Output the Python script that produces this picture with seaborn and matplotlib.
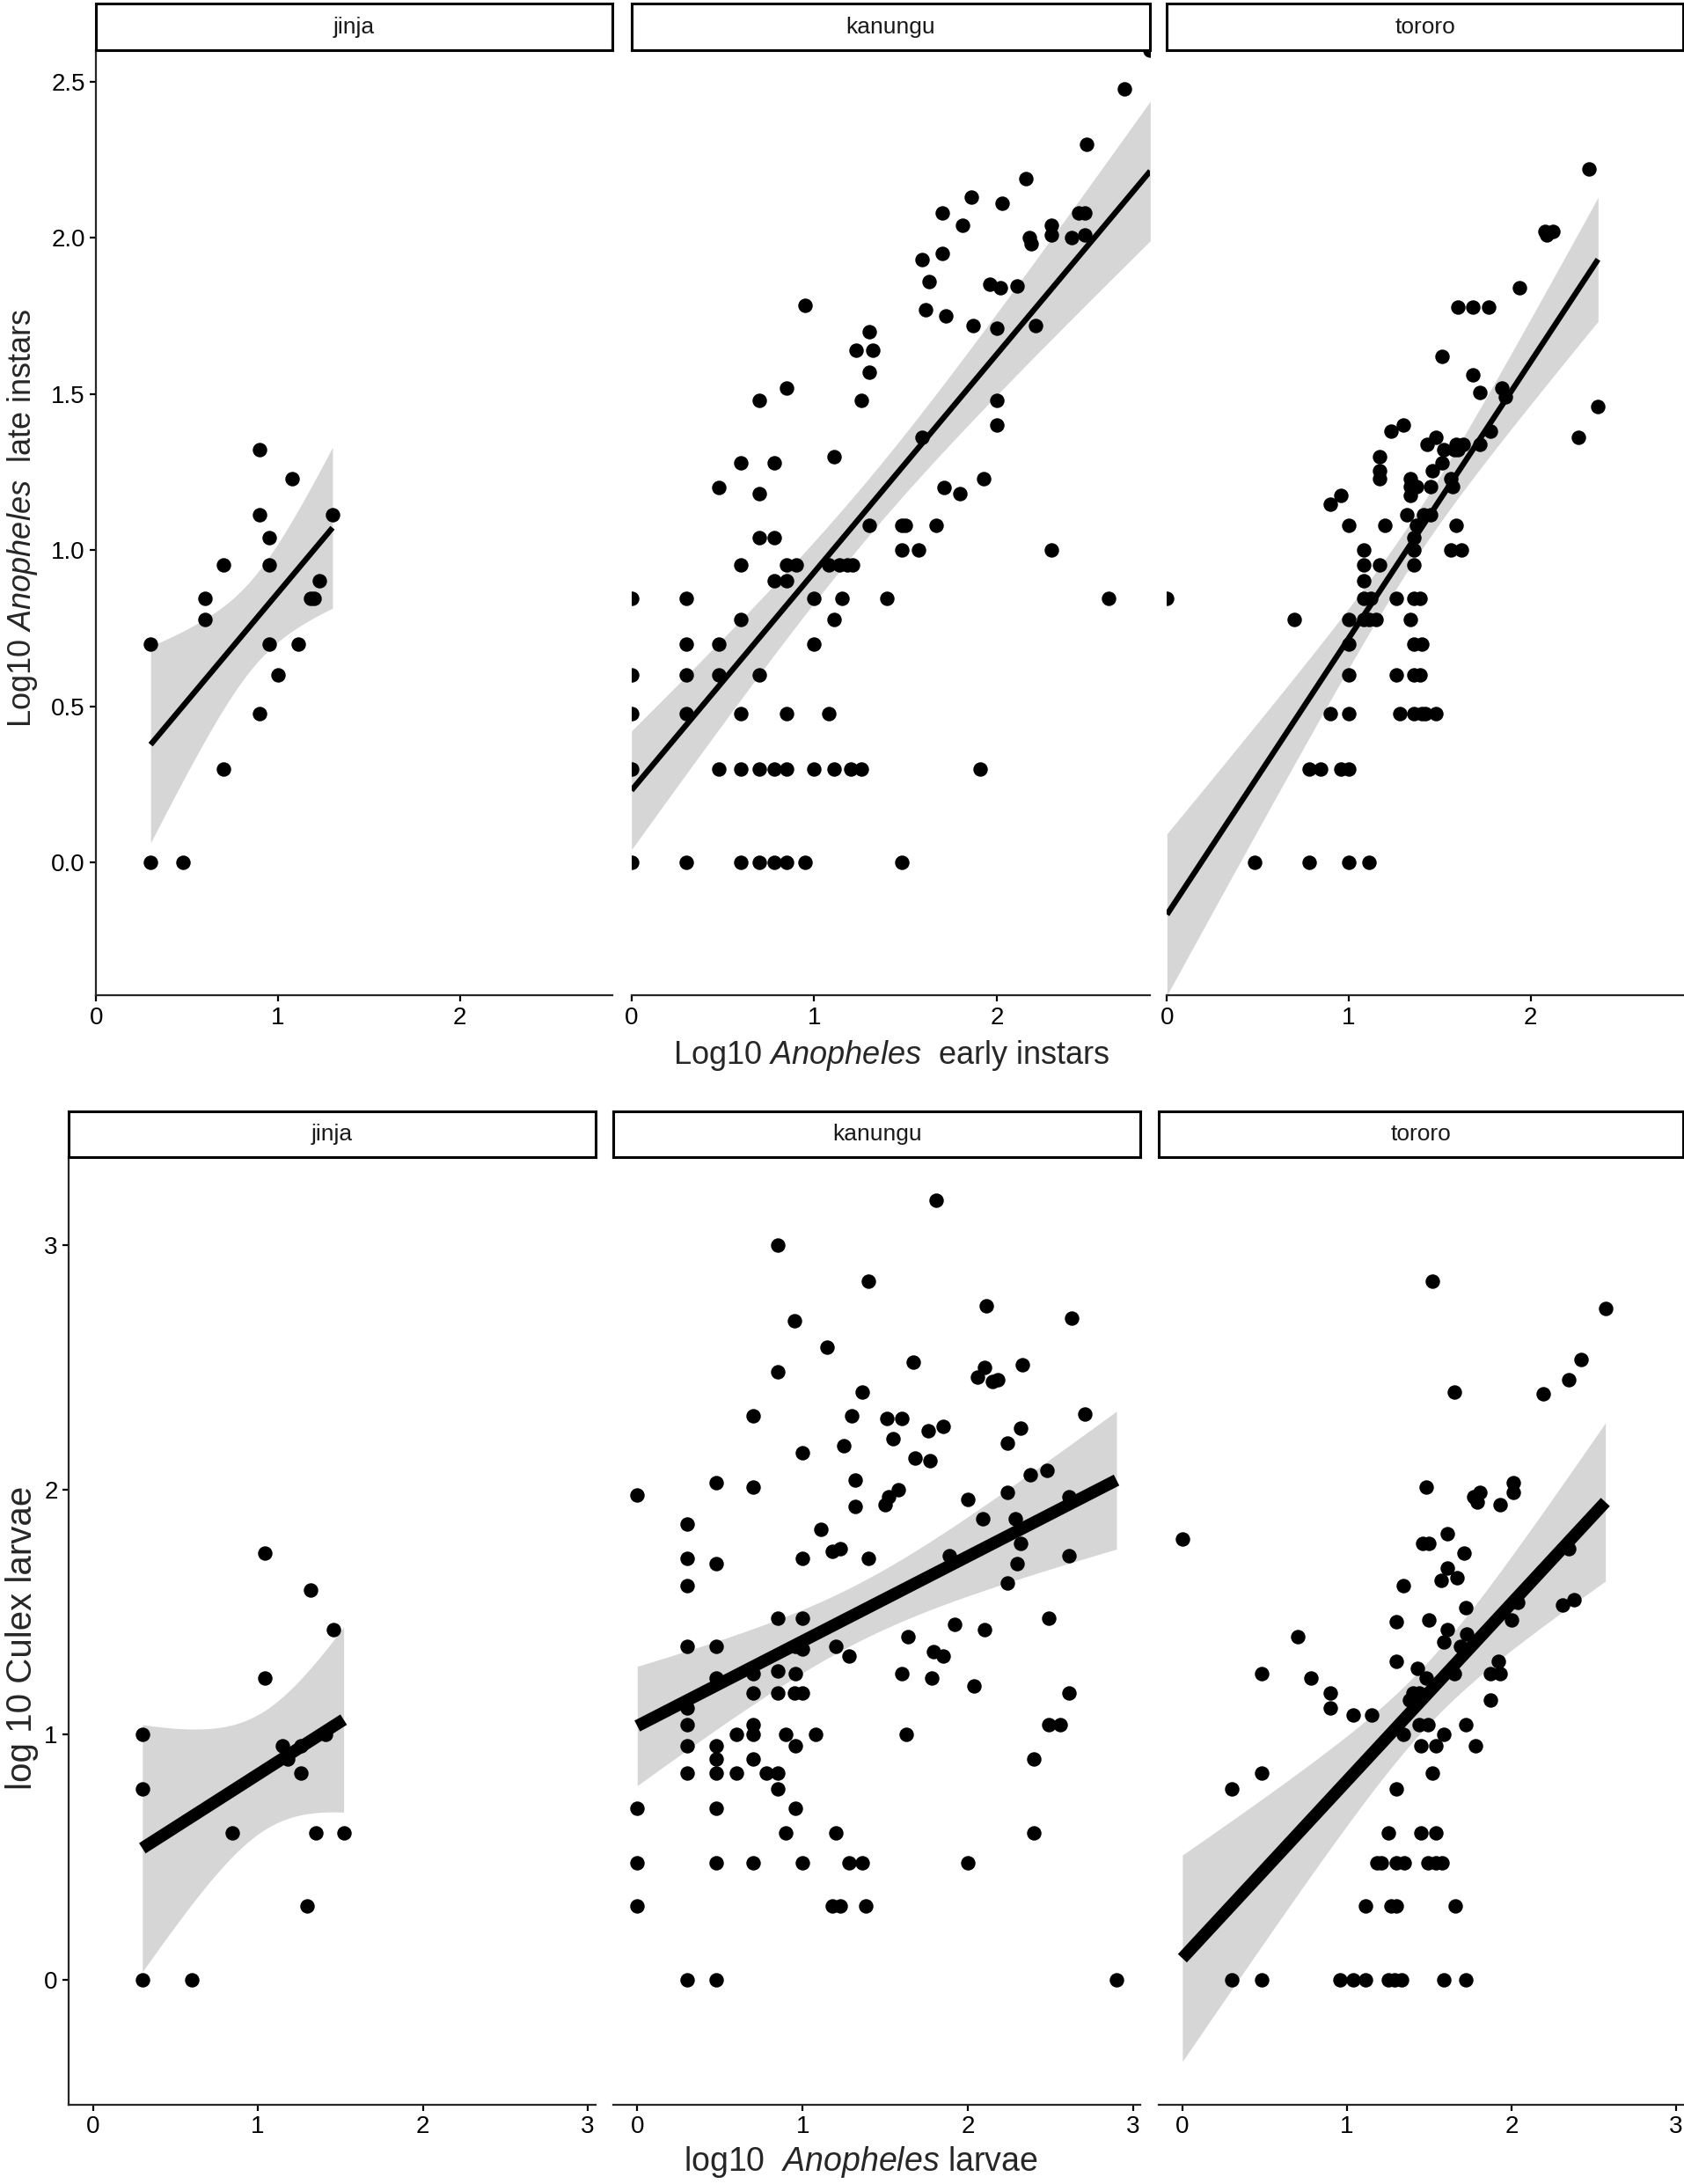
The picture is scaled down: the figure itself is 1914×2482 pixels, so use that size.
import numpy as np
import pandas as pd
import seaborn as sns
import matplotlib.pyplot as plt

sns.set_style("ticks")
plt.rcParams['font.family'] = ['Liberation Sans', 'DejaVu Sans']
plt.rcParams['mathtext.fontset'] = 'custom'
plt.rcParams['mathtext.rm'] = 'Liberation Sans'
plt.rcParams['mathtext.it'] = 'Liberation Sans:italic'

sites = ['jinja', 'kanungu', 'tororo']

# --- top row: log10 early instars (x) vs log10 late instars (y) ---
early_jinja = [0.30, 0.30, 0.48, 0.60, 0.60, 0.70, 0.70, 0.90, 0.90, 0.90, 0.95, 0.95, 0.95, 1.00,
               1.08, 1.11, 1.18, 1.20, 1.23, 1.30]
late_jinja = [0.70, 0.00, 0.00, 0.845, 0.778, 0.954, 0.30, 1.322, 1.114, 0.477, 1.041, 0.954, 0.70, 0.60,
              1.23, 0.70, 0.845, 0.845, 0.903, 1.114]

early_kanungu = [2.84, 2.70, 2.49, 2.16, 1.86, 2.03, 1.70, 1.81, 2.45, 2.48, 2.30, 2.30, 2.18, 2.19, 2.41,
                 2.48, 1.70, 1.59, 1.63, 1.96, 2.02, 2.11, 0.95, 1.61, 1.72, 1.87, 2.00, 2.21, 1.30, 1.23,
                 1.32, 1.30, 0.85, 0.70, 1.26, 2.00, 2.00, 1.59, 1.11, 0.60, 0.78, 0.48, 0.70, 1.93, 1.71,
                 1.80, 1.30, 1.48, 1.50, 1.67, 0.70, 0.78, 1.48, 1.57, 2.30, 0.60, 0.85, 0.90, 1.08, 1.14,
                 1.18, 1.21, 0.78, 0.85, 0.00, 0.30, 1.00, 1.15, 1.40, 2.61, 0.60, 1.11, 0.30, 0.48, 1.00,
                 0.00, 0.30, 0.48, 0.70, 0.00, 0.30, 0.60, 0.85, 1.08, 0.00, 0.48, 0.60, 0.70, 0.78, 0.85,
                 1.00, 1.11, 1.20, 1.26, 1.91, 0.00, 0.30, 0.60, 0.70, 0.78, 0.85, 0.95, 1.48]
late_kanungu = [2.60, 2.476, 2.30, 2.19, 2.13, 2.11, 2.08, 2.04, 2.08, 2.08, 2.04, 2.01, 2.00, 1.98, 2.00,
                2.01, 1.95, 1.93, 1.86, 1.85, 1.84, 1.845, 1.785, 1.77, 1.75, 1.72, 1.71, 1.72, 1.70, 1.64,
                1.64, 1.57, 1.52, 1.48, 1.48, 1.48, 1.40, 1.36, 1.30, 1.28, 1.28, 1.20, 1.18, 1.23, 1.20,
                1.18, 1.079, 1.079, 1.079, 1.079, 1.041, 1.041, 1.00, 1.00, 1.00, 0.954, 0.954, 0.954, 0.954, 0.954,
                0.954, 0.954, 0.903, 0.903, 0.845, 0.845, 0.845, 0.845, 0.845, 0.845, 0.778, 0.778, 0.699, 0.699, 0.699,
                0.602, 0.602, 0.602, 0.602, 0.477, 0.477, 0.477, 0.477, 0.477, 0.301, 0.301, 0.301, 0.301, 0.301, 0.301,
                0.301, 0.301, 0.301, 0.301, 0.301, 0.00, 0.00, 0.00, 0.00, 0.00, 0.00, 0.00, 0.00]

early_tororo = [2.32, 2.08, 2.09, 2.12, 1.94, 1.60, 1.68, 1.77, 1.51, 1.68, 1.72, 1.84, 1.86, 2.37, 2.26,
                1.30, 1.23, 1.48, 1.78, 1.43, 1.59, 1.63, 1.72, 1.52, 1.58, 1.60, 1.17, 1.51, 1.17, 1.17,
                1.46, 1.34, 1.56, 1.34, 1.37, 1.45, 1.57, 1.34, 0.955, 0.90, 1.32, 1.41, 1.45, 1.00, 1.20,
                1.37, 1.59, 1.36, 1.08, 1.36, 1.56, 1.62, 1.08, 1.17, 1.36, 1.08, 0.00, 1.08, 1.12, 1.26,
                1.36, 1.39, 0.70, 1.00, 1.08, 1.11, 1.15, 1.34, 1.00, 1.36, 1.40, 1.00, 1.26, 1.36, 1.39,
                0.90, 1.00, 1.28, 1.36, 1.40, 1.42, 1.48, 0.78, 0.845, 0.955, 1.00, 0.48, 0.78, 1.00, 1.11]
late_tororo = [2.22, 2.02, 2.01, 2.02, 1.84, 1.778, 1.778, 1.778, 1.62, 1.56, 1.505, 1.52, 1.49, 1.46, 1.36,
               1.40, 1.38, 1.36, 1.38, 1.34, 1.34, 1.34, 1.34, 1.322, 1.322, 1.322, 1.30, 1.28, 1.255, 1.23,
               1.255, 1.23, 1.23, 1.204, 1.204, 1.204, 1.204, 1.176, 1.176, 1.146, 1.114, 1.114, 1.114, 1.079, 1.079,
               1.079, 1.079, 1.041, 1.00, 1.00, 1.00, 1.00, 0.954, 0.954, 0.954, 0.903, 0.845, 0.845, 0.845, 0.845,
               0.845, 0.845, 0.778, 0.778, 0.778, 0.778, 0.778, 0.778, 0.699, 0.699, 0.699, 0.602, 0.602, 0.602, 0.602,
               0.477, 0.477, 0.477, 0.477, 0.477, 0.477, 0.477, 0.301, 0.301, 0.301, 0.301, 0.00, 0.00, 0.00, 0.00]

# --- bottom row: log10 Anopheles larvae (x) vs log10 Culex larvae (y) ---
anoph_jinja = [0.30, 0.30, 0.30, 0.60, 0.845, 1.04, 1.04, 1.15, 1.18, 1.26, 1.26, 1.32, 1.30, 1.35, 1.41,
               1.46, 1.52]
culex_jinja = [1.00, 0.778, 0.00, 0.00, 0.60, 1.74, 1.23, 0.954, 0.90, 0.954, 0.845, 1.59, 0.30, 0.60, 1.00,
               1.43, 0.60]

anoph_kanungu = [1.81, 0.85, 1.40, 2.11, 2.63, 0.95, 1.15, 1.67, 2.10, 2.33, 2.06, 2.15, 2.18, 0.85, 1.36,
                 0.70, 1.30, 1.51, 1.60, 2.71, 1.85, 1.76, 2.32, 1.55, 2.24, 1.25, 1.00, 1.68, 1.77, 2.38,
                 2.48, 1.32, 0.48, 0.70, 0.00, 1.58, 2.24, 2.00, 1.52, 1.50, 1.32, 2.61, 0.30, 1.11, 2.09,
                 2.29, 1.18, 1.23, 2.32, 0.30, 0.48, 1.00, 1.40, 1.89, 2.61, 2.30, 0.30, 2.24, 0.85, 1.00,
                 2.49, 1.92, 2.10, 1.64, 0.30, 0.48, 0.955, 1.00, 1.20, 1.28, 1.79, 1.85, 1.60, 1.78, 2.04,
                 2.61, 0.48, 0.70, 0.85, 0.955, 0.30, 0.70, 0.85, 0.95, 1.00, 0.30, 2.49, 2.56, 0.70, 0.60,
                 0.70, 0.90, 1.08, 1.63, 0.30, 0.48, 0.955, 0.48, 0.70, 2.40, 0.30, 0.48, 0.60, 0.78, 0.85,
                 0.85, 0.00, 0.48, 0.955, 0.90, 1.20, 2.40, 0.00, 0.48, 0.70, 1.00, 1.28, 1.36, 2.00, 0.00,
                 1.18, 1.23, 1.38, 0.30, 0.48, 2.90]
culex_kanungu = [3.18, 3.00, 2.85, 2.75, 2.70, 2.69, 2.58, 2.52, 2.50, 2.51, 2.46, 2.44, 2.45, 2.48, 2.40,
                 2.30, 2.30, 2.29, 2.29, 2.31, 2.26, 2.24, 2.25, 2.21, 2.19, 2.18, 2.15, 2.13, 2.12, 2.06,
                 2.08, 2.04, 2.03, 2.01, 1.98, 2.00, 1.99, 1.96, 1.97, 1.94, 1.93, 1.97, 1.86, 1.84, 1.88,
                 1.88, 1.75, 1.76, 1.78, 1.72, 1.70, 1.72, 1.72, 1.73, 1.73, 1.70, 1.61, 1.62, 1.477, 1.477,
                 1.477, 1.45, 1.43, 1.40, 1.36, 1.36, 1.36, 1.35, 1.36, 1.32, 1.34, 1.32, 1.25, 1.23, 1.20,
                 1.17, 1.23, 1.25, 1.26, 1.25, 1.11, 1.17, 1.17, 1.17, 1.17, 1.04, 1.04, 1.04, 1.04, 1.00,
                 1.00, 1.00, 1.00, 1.00, 0.954, 0.954, 0.954, 0.90, 0.90, 0.90, 0.845, 0.845, 0.845, 0.845, 0.845,
                 0.778, 0.70, 0.70, 0.70, 0.60, 0.60, 0.60, 0.477, 0.477, 0.477, 0.477, 0.477, 0.477, 0.477, 0.301,
                 0.301, 0.301, 0.301, 0.00, 0.00, 0.00]

anoph_tororo = [1.52, 2.57, 2.42, 2.35, 1.65, 2.19, 1.48, 2.01, 2.01, 1.77, 1.81, 1.79, 1.93, 0.00, 1.61,
                1.46, 1.50, 1.71, 2.35, 1.61, 1.57, 1.67, 1.34, 2.38, 2.31, 1.72, 2.04, 2.00, 1.30, 1.50,
                1.61, 0.70, 1.59, 1.73, 1.69, 1.30, 1.43, 1.48, 0.48, 0.78, 1.65, 1.87, 1.93, 1.92, 0.90,
                0.90, 1.04, 1.15, 1.40, 1.44, 1.38, 1.87, 1.44, 1.49, 1.72, 1.34, 1.59, 1.45, 1.54, 1.78,
                0.48, 1.52, 0.30, 1.30, 1.25, 1.45, 1.54, 1.18, 1.21, 1.30, 1.35, 1.49, 1.54, 1.58, 1.11,
                1.27, 1.30, 1.66, 0.30, 0.48, 0.96, 1.04, 1.11, 1.25, 1.29, 1.33, 1.59, 1.72]
culex_tororo = [2.85, 2.74, 2.53, 2.45, 2.40, 2.39, 2.01, 2.03, 1.99, 1.97, 1.99, 1.95, 1.94, 1.80, 1.82,
                1.78, 1.78, 1.74, 1.76, 1.68, 1.63, 1.64, 1.61, 1.55, 1.53, 1.52, 1.54, 1.47, 1.46, 1.47,
                1.43, 1.40, 1.38, 1.41, 1.36, 1.30, 1.27, 1.23, 1.25, 1.23, 1.25, 1.25, 1.25, 1.30, 1.17,
                1.11, 1.08, 1.08, 1.17, 1.17, 1.14, 1.14, 1.04, 1.04, 1.04, 1.00, 1.00, 0.954, 0.954, 0.954,
                0.845, 0.845, 0.778, 0.778, 0.60, 0.60, 0.60, 0.477, 0.477, 0.477, 0.477, 0.477, 0.477, 0.477, 0.301,
                0.301, 0.301, 0.301, 0.00, 0.00, 0.00, 0.00, 0.00, 0.00, 0.00, 0.00, 0.00, 0.00]

top_data = pd.concat([
    pd.DataFrame({'site': s, 'early': x, 'late': y})
    for s, x, y in zip(sites, [early_jinja, early_kanungu, early_tororo],
                       [late_jinja, late_kanungu, late_tororo])
])
bottom_data = pd.concat([
    pd.DataFrame({'site': s, 'anoph': x, 'culex': y})
    for s, x, y in zip(sites, [anoph_jinja, anoph_kanungu, anoph_tororo],
                       [culex_jinja, culex_kanungu, culex_tororo])
])

TICK_SIZE = 20
STRIP_SIZE = 19

fig = plt.figure(figsize=(19.15, 24.82), dpi=100)


def t_quantile(df, z=1.959964):
    # Cornish-Fisher approximation of the 97.5% Student t quantile
    return (z + (z ** 3 + z) / (4 * df)
            + (5 * z ** 5 + 16 * z ** 3 + 3 * z) / (96 * df ** 2))


def lm_fit(x, y, n=80):
    """OLS fit with 95% confidence band, like geom_smooth(method='lm')."""
    x = np.asarray(x, float)
    y = np.asarray(y, float)
    b, a = np.polyfit(x, y, 1)
    resid = y - (a + b * x)
    dof = len(x) - 2
    s = np.sqrt(np.sum(resid ** 2) / dof)
    grid = np.linspace(x.min(), x.max(), n)
    se = s * np.sqrt(1 / len(x) + (grid - x.mean()) ** 2 / np.sum((x - x.mean()) ** 2))
    fit = a + b * grid
    t = t_quantile(dof)
    return grid, fit, fit - t * se, fit + t * se


def add_strip(rect, label):
    sax = fig.add_axes(rect)
    sax.set_xticks([])
    sax.set_yticks([])
    for sp in sax.spines.values():
        sp.set_linewidth(2.2)
        sp.set_color('black')
    sax.text(0.5, 0.5, label, ha='center', va='center', fontsize=STRIP_SIZE,
             color='#1A1A1A', transform=sax.transAxes)


def draw_row(df, xcol, ycol, rects, line_w, expand, xticks, yticks, yfmt):
    fits = {s: lm_fit(df.loc[df.site == s, xcol], df.loc[df.site == s, ycol]) for s in sites}
    lo = min(df[ycol].min(), min(f[2].min() for f in fits.values()))
    hi = max(df[ycol].max(), max(f[3].max() for f in fits.values()))
    xlo, xhi = df[xcol].min(), df[xcol].max()
    ylim = (lo - expand * (hi - lo), hi + expand * (hi - lo))
    xlim = (xlo - expand * (xhi - xlo), xhi + expand * (xhi - xlo))

    for i, (site, rect) in enumerate(zip(sites, rects)):
        ax = fig.add_axes(rect)
        sub = df[df['site'] == site]
        grid, fit, low, up = fits[site]
        # band first, then points, then the fitted line on top
        ax.fill_between(grid, low, up, color='#D6D6D6', linewidth=0, zorder=1)
        sns.scatterplot(data=sub, x=xcol, y=ycol, ax=ax, color='black', s=140,
                        linewidth=0, zorder=2)
        ax.plot(grid, fit, color='black', lw=line_w, solid_capstyle='butt', zorder=3)
        ax.set_xlim(*xlim)
        ax.set_ylim(*ylim)
        ax.set_xticks(xticks)
        ax.set_xticklabels([str(t) for t in xticks])
        ax.set_xlabel('')
        ax.set_ylabel('')
        sns.despine(ax=ax)
        ax.spines['bottom'].set_linewidth(1.6)
        ax.spines['left'].set_linewidth(1.6)
        ax.tick_params(axis='both', length=5, width=1.6, labelsize=TICK_SIZE,
                       colors='black', pad=4)
        if i == 0:
            ax.set_yticks(yticks)
            ax.set_yticklabels([yfmt.format(t) for t in yticks])
        else:
            ax.set_yticks([])
            ax.spines['left'].set_visible(False)
        add_strip([rect[0], rect[1] + rect[3], rect[2], 0.0212], site)


top_rects = [[0.0570, 0.5443, 0.3066, 0.4327],
             [0.3748, 0.5443, 0.3079, 0.4327],
             [0.6926, 0.5443, 0.3066, 0.4327]]
draw_row(top_data, 'early', 'late', top_rects, 4.6, 0.0,
         [0, 1, 2], [0, 0.5, 1.0, 1.5, 2.0, 2.5], '{:.1f}')

bottom_rects = [[0.0409, 0.0364, 0.3124, 0.4336],
                [0.3640, 0.0364, 0.3129, 0.4336],
                [0.6876, 0.0364, 0.3116, 0.4336]]
draw_row(bottom_data, 'anoph', 'culex', bottom_rects, 10, 0.05,
         [0, 1, 2, 3], [0, 1, 2, 3], '{:.0f}')

fig.text(0.529, 0.5166, r'Log10 $\it{Anopheles}$  early instars', ha='center', va='center',
         fontsize=26)
fig.text(0.0135, 0.763, r'Log10 $\it{Anopheles}$  late instars', ha='center', va='center',
         rotation=90, fontsize=26)
fig.text(0.511, 0.0102, r'log10  $\it{Anopheles}$ larvae', ha='center', va='center',
         fontsize=27)
fig.text(0.0130, 0.250, 'log 10 Culex larvae', ha='center', va='center',
         rotation=90, fontsize=29)

fig.savefig('out.png', dpi=100)
